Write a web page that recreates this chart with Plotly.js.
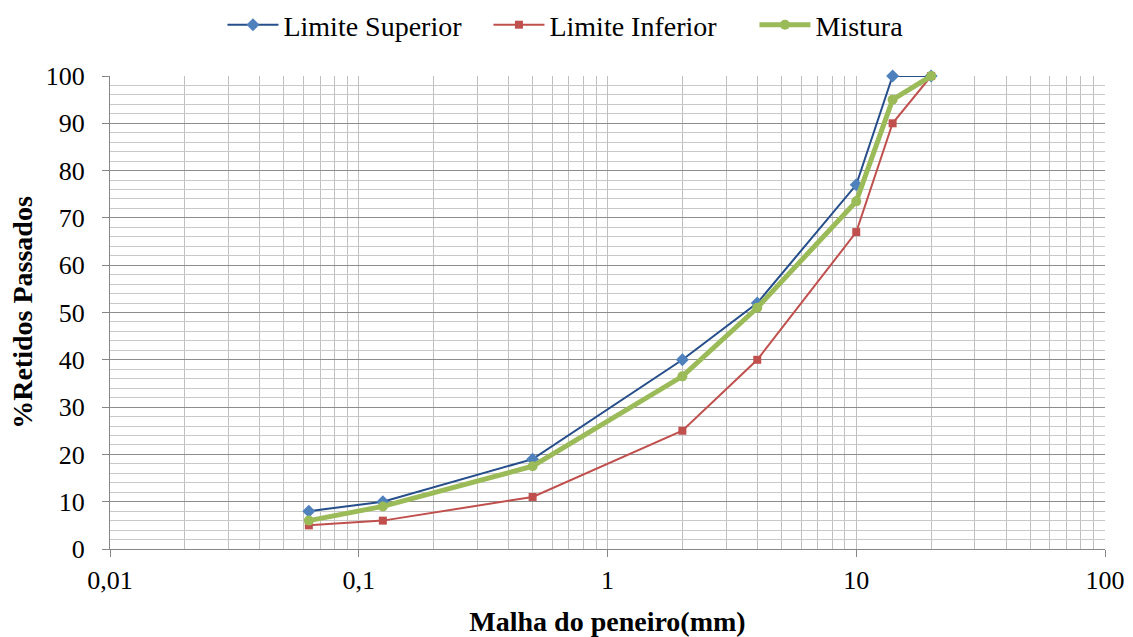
<!DOCTYPE html>
<html>
<head>
<meta charset="utf-8">
<script src="https://cdn.plot.ly/plotly-3.0.1.min.js"></script>
<style>
  html, body { margin: 0; padding: 0; background: #ffffff; }
  #chart { width: 1133px; height: 637px; }
</style>
</head>
<body>
<div id="chart"></div>
<script>
// Sieve openings (mm) and cumulative % passing for each curve
const sieveSizes = [0.063, 0.125, 0.5, 2, 4, 10, 14, 20];
const limiteSuperior = [8, 10, 19, 40, 52, 77, 100, 100];
const limiteInferior = [5, 6, 11, 25, 40, 67, 90, 100];
const mistura = [6, 9, 17.5, 36.5, 51, 73.5, 95, 100];

const seriesNames = ['Limite Superior', 'Limite Inferior', 'Mistura'];
const xTickVals = [0.01, 0.1, 1, 10, 100];
const xTickText = ['0,01', '0,1', '1', '10', '100'];

const serif = 'Liberation Serif';

const traces = [
  {
    x: sieveSizes, y: limiteSuperior, name: seriesNames[0],
    type: 'scatter', mode: 'lines+markers', cliponaxis: false,
    line: { color: '#254E8A', width: 2 },
    marker: { symbol: 'diamond', size: 10, color: '#4F81BD' }
  },
  {
    x: sieveSizes, y: limiteInferior, name: seriesNames[1],
    type: 'scatter', mode: 'lines+markers', cliponaxis: false,
    line: { color: '#C0504D', width: 2 },
    marker: { symbol: 'square', size: 8, color: '#C0504D' }
  },
  {
    x: sieveSizes, y: mistura, name: seriesNames[2],
    type: 'scatter', mode: 'lines+markers', cliponaxis: false,
    line: { color: '#9BBB59', width: 5 },
    marker: { symbol: 'circle', size: 10, color: '#9BBB59' }
  }
];

const layout = {
  width: 1133, height: 637,
  margin: { l: 110, r: 28, t: 76, b: 88 },
  paper_bgcolor: '#ffffff',
  plot_bgcolor: '#ffffff',
  font: { family: serif, size: 26, color: '#000000' },
  showlegend: true,
  legend: {
    orientation: 'h',
    xref: 'container', yref: 'container',
    x: 0.5485, xanchor: 'center', y: 1, yanchor: 'top',
    font: { family: serif, size: 28, color: '#000000' },
    itemwidth: 51,
    entrywidth: 200,
    entrywidthmode: 'pixels',
    tracegroupgap: 0
  },
  xaxis: {
    type: 'log',
    range: [-2, 2],
    tickvals: xTickVals,
    ticktext: xTickText,
    ticks: 'outside', ticklen: 7, tickcolor: '#868686',
    ticklabelstandoff: 1,
    showline: true, linecolor: '#868686', linewidth: 1,
    showgrid: true, gridcolor: '#BFBFBF', gridwidth: 1,
    minor: { dtick: 'D1', showgrid: true, gridcolor: '#BFBFBF', gridwidth: 1, ticks: '' },
    zeroline: false,
    tickfont: { family: serif, size: 26, color: '#000000' },
    title: {
      text: '<b>Malha do peneiro(mm)</b>',
      font: { family: serif, size: 28, color: '#000000' },
      standoff: 18
    }
  },
  yaxis: {
    range: [0, 100],
    dtick: 10,
    ticks: 'outside', ticklen: 7, tickcolor: '#868686',
    ticklabelstandoff: 12,
    showline: true, linecolor: '#868686', linewidth: 1,
    showgrid: true, gridcolor: '#8C8C8C', gridwidth: 1,
    minor: { dtick: 2, showgrid: true, gridcolor: '#C8C8C8', gridwidth: 1, ticks: '' },
    zeroline: false,
    tickfont: { family: serif, size: 26, color: '#000000' },
    title: {
      text: '<b>%Retidos Passados</b>',
      font: { family: serif, size: 28, color: '#000000' },
      standoff: 4
    }
  }
};

Plotly.newPlot('chart', traces, layout, { displayModeBar: false, staticPlot: true });
</script>
</body>
</html>
